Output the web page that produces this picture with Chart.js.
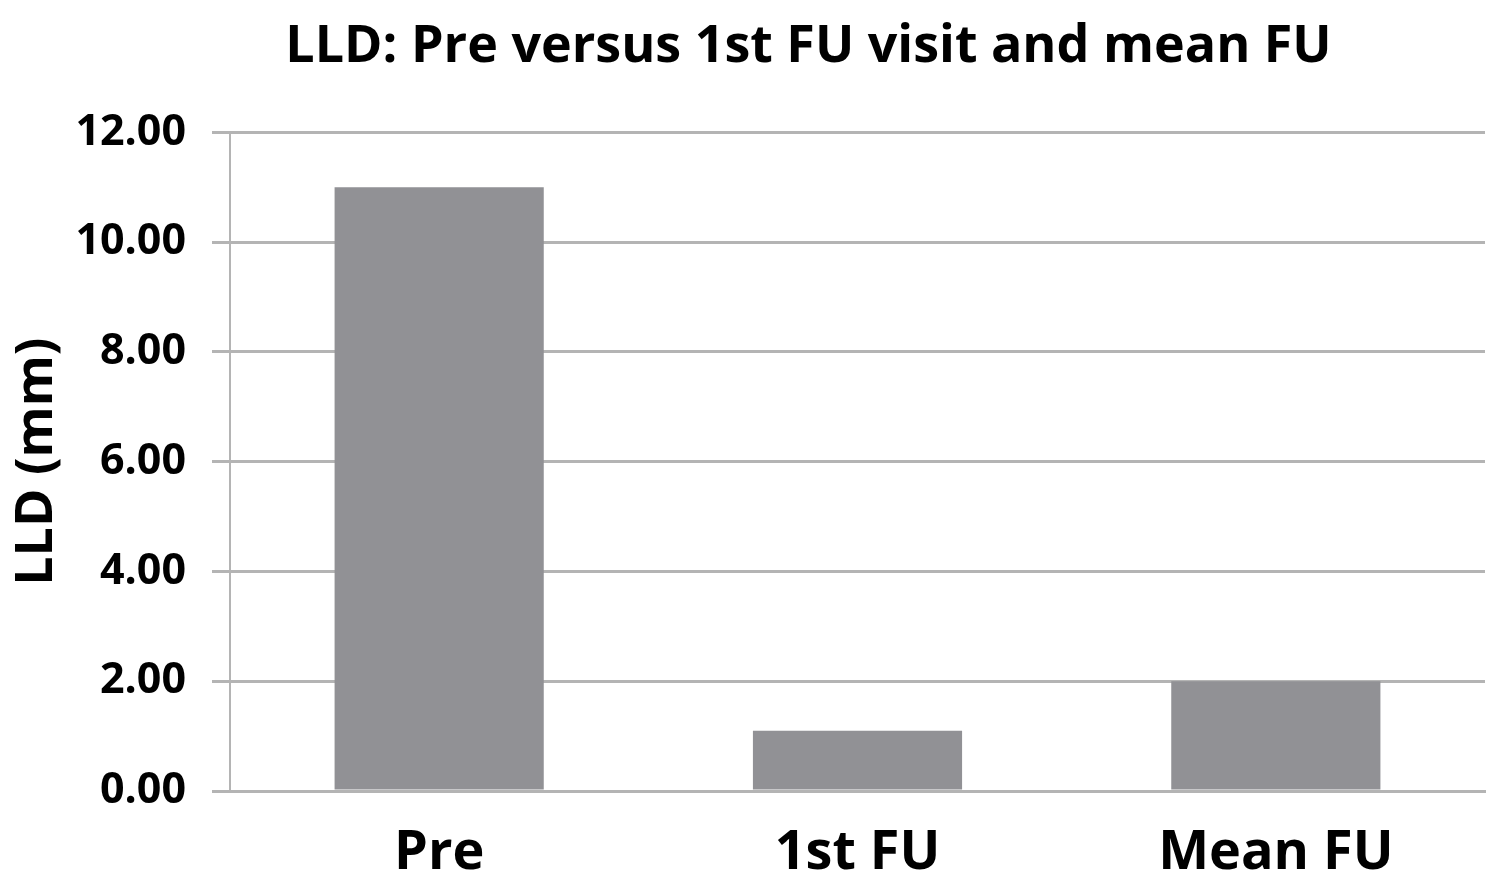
<!DOCTYPE html>
<html>
<head>
<meta charset="utf-8">
<script src="https://cdn.jsdelivr.net/npm/chart.js@4.4.1/dist/chart.umd.min.js"></script>
<style>
  body { margin: 0; background: #fff; }
  #wrap { width: 1500px; height: 896px; }
</style>
</head>
<body>
<div id="wrap"><canvas id="barChart" width="1500" height="896"></canvas></div>
<script>
// Datos
var categorias = ['Pre', '1st FU', 'Mean FU'];
var lldMedia = [11.0, 1.1, 2.0]; // mm
var ticksY = [0, 2, 4, 6, 8, 10, 12];

var fuente = '"Open Sans", sans-serif';
var gris = '#b4b4b4';

// desplaza el título un poco a la derecha, como en el original
var moverTitulo = {
    id: 'moverTitulo',
    afterLayout: function (chart) {
        var t = chart.titleBlock;
        if (t) { t.left += 66; t.right += 66; }
    }
};

var ctx = document.getElementById('barChart').getContext('2d');

var barChart = new Chart(ctx, {
    type: 'bar',
    data: {
        labels: categorias,
        datasets: [{
            label: 'LLD',
            data: lldMedia,
            backgroundColor: '#919195',
            borderWidth: 0,
            barPercentage: 0.5,
            categoryPercentage: 1.0
        }]
    },
    plugins: [moverTitulo],
    options: {
        responsive: false,
        animation: false,
        layout: { padding: { left: 0, right: 15, top: 0, bottom: 0 } },
        plugins: {
            legend: { display: false },
            tooltip: { enabled: false },
            title: {
                display: true,
                text: 'LLD: Pre versus 1st FU visit and mean FU',
                color: '#000',
                font: { family: fuente, size: 52, weight: 'bold' },
                padding: { top: 16, bottom: 54 }
            }
        },
        scales: {
            y: {
                min: 0,
                max: 12,
                afterBuildTicks: function (s) { s.ticks = ticksY.map(function (v) { return { value: v }; }); },
                afterFit: function (s) { s.width = 230; },
                ticks: {
                    color: '#000',
                    font: { family: fuente, size: 43, weight: 'bold' },
                    padding: 26,
                    callback: function (v) { return Number(v).toFixed(2); }
                },
                grid: { color: gris, lineWidth: 3, tickLength: 18 },
                border: { color: gris, width: 2 },
                title: {
                    display: true,
                    text: 'LLD (mm)',
                    color: '#000',
                    font: { family: fuente, size: 52, weight: 'bold' },
                    padding: { top: 6, bottom: 0 }
                }
            },
            x: {
                afterFit: function (s) { s.height = 105; },
                ticks: {
                    color: '#000',
                    font: { family: fuente, size: 54, weight: 'bold' },
                    padding: 22
                },
                grid: { display: false },
                border: { color: gris, width: 3 }
            }
        }
    }
});
</script>
</body>
</html>
